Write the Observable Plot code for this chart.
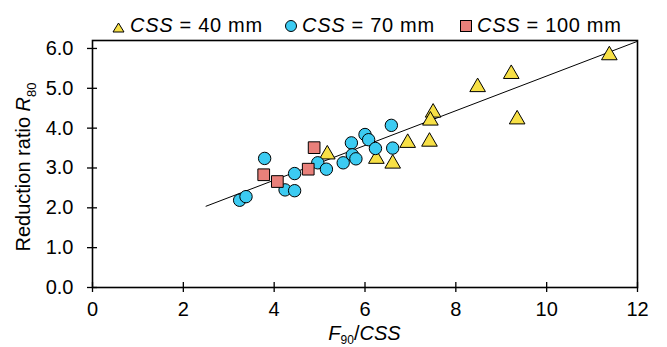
<!DOCTYPE html>
<html><head><meta charset="utf-8">
<script src="https://cdn.jsdelivr.net/npm/d3@7"></script>
<script src="https://cdn.jsdelivr.net/npm/@observablehq/plot@0.6"></script>
<style>
body{margin:0;background:#fff;font-family:"Liberation Sans",Arial,sans-serif;}
#wrap{position:relative;width:667px;height:347px;overflow:hidden;}
#legend{position:relative;height:30px;width:667px;font-size:20px;line-height:24px;letter-spacing:0.7px;}
.li{position:absolute;top:13px;display:flex;align-items:center;white-space:nowrap;}
.li svg{margin-right:4px;position:relative;}
</style></head>
<body><div id="wrap"><div id="legend"></div><div id="chart"></div></div>
<script>
// Data
const css40X = [11.38, 9.22, 8.48, 9.35, 7.50, 7.44, 7.42, 6.94, 6.61, 6.25, 5.17];
const css40Y = [5.83, 5.36, 5.03, 4.22, 4.39, 4.19, 3.66, 3.63, 3.11, 3.23, 3.34];
const css70X = [3.24, 3.38, 3.79, 4.24, 4.45, 4.45, 4.96, 5.15, 5.52, 5.70, 5.72, 5.80, 6.00, 6.08, 6.23, 6.58, 6.61];
const css70Y = [2.19, 2.28, 3.24, 2.45, 2.43, 2.86, 3.13, 2.97, 3.13, 3.63, 3.33, 3.23, 3.84, 3.71, 3.49, 4.07, 3.50];
const css100X = [3.77, 4.07, 4.75, 4.88];
const css100Y = [2.83, 2.66, 2.97, 3.51];
const trendX = [2.5, 12];
const trendY = [2.04, 6.18];
const xTicks = [0, 2, 4, 6, 8, 10, 12];
const yTicks = [0, 1, 2, 3, 4, 5, 6];
const seriesNames = ["CSS = 40 mm", "CSS = 70 mm", "CSS = 100 mm"];

const colors = {tri: "#f7e046", cir: "#3ccbf2", sq: "#e9807a"};
const zip = (xs, ys) => xs.map((x, i) => ({x, y: ys[i]}));
const d40 = zip(css40X, css40Y), d70 = zip(css70X, css70Y), d100 = zip(css100X, css100Y);
const trend = zip(trendX, trendY);

// Legend (HTML, above the SVG)
const legend = document.getElementById("legend");
const legendItems = [
  {left: 112, top: 3, shape: `<polygon points="6.5,2 12,11 1,11" fill="${colors.tri}" stroke="#000" stroke-width="1"/>`, name: seriesNames[0]},
  {left: 284, top: 1, shape: `<circle cx="7" cy="7" r="5.5" fill="${colors.cir}" stroke="#000" stroke-width="1"/>`, name: seriesNames[1]},
  {left: 459, top: 1, shape: `<rect x="1.5" y="1.5" width="11" height="11" fill="${colors.sq}" stroke="#000" stroke-width="1"/>`, name: seriesNames[2]}
];
for (const it of legendItems) {
  const d = document.createElement("div");
  d.className = "li";
  d.style.left = it.left + "px";
  const rest = it.name.replace(/^CSS/, "");
  d.innerHTML = `<svg width="14" height="14" style="top:${it.top}px">${it.shape}</svg><span><i>CSS</i>${rest}</span>`;
  legend.appendChild(d);
}

const chart = Plot.plot({
  width: 667, height: 317,
  marginLeft: 92, marginRight: 30, marginTop: 10, marginBottom: 60,
  style: {fontFamily: "Liberation Sans, Arial, sans-serif", fontSize: "20px", color: "#000", background: "#fff", overflow: "visible"},
  x: {domain: [0, 12]},
  y: {domain: [0, 6.2]},
  marks: [
    Plot.frame({stroke: "#000", strokeWidth: 1.6}),
    Plot.axisX(xTicks, {tickSize: 10, dy: -5, text: null, strokeWidth: 1.3, label: null}),
    Plot.axisX(xTicks, {tickSize: 0, tickPadding: 14, label: null, fontSize: 20}),
    Plot.axisY(yTicks, {tickSize: 10, dx: 5, text: null, strokeWidth: 1.3, label: null}),
    Plot.axisY(yTicks, {tickSize: 0, tickPadding: 19, tickFormat: d3.format(".1f"), label: null, fontSize: 20}),
    Plot.line(trend, {x: "x", y: "y", stroke: "#000", strokeWidth: 1}),
    Plot.dot(d40, {x: "x", y: "y", symbol: "triangle", r: 5.8, fill: colors.tri, stroke: "#000", strokeWidth: 1}),
    Plot.dot(d70, {x: "x", y: "y", symbol: "circle", r: 6.2, fill: colors.cir, stroke: "#000", strokeWidth: 1}),
    Plot.dot(d100, {x: "x", y: "y", symbol: "square", r: 6.6, fill: colors.sq, stroke: "#000", strokeWidth: 1})
  ]
});
document.getElementById("chart").appendChild(chart);

// Axis titles with italic + subscript
const svg = d3.select(chart);
const xl = svg.append("text").attr("x", 364.5).attr("y", 310).attr("text-anchor", "middle")
  .attr("font-size", 20).attr("fill", "#000");
xl.append("tspan").attr("font-style", "italic").text("F");
xl.append("tspan").attr("font-size", 12).attr("dy", 4).text("90");
xl.append("tspan").attr("dy", -4).text("/");
xl.append("tspan").attr("font-style", "italic").text("CSS");

const yl = svg.append("text").attr("transform", "translate(30,137) rotate(-90)").attr("text-anchor", "middle")
  .attr("font-size", 20).attr("fill", "#000");
yl.append("tspan").text("Reduction ratio ");
yl.append("tspan").attr("font-style", "italic").text("R");
yl.append("tspan").attr("font-size", 13).attr("dy", 6).text("80");
</script></body></html>
